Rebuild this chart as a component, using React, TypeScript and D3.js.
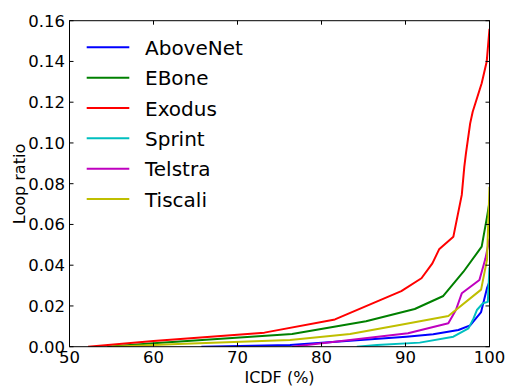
import React from "react";
import * as d3 from "d3";

const xTicks = [50, 60, 70, 80, 90, 100];
const yTicks = [0, 0.02, 0.04, 0.06, 0.08, 0.1, 0.12, 0.14, 0.16];

const aboveNet: [number, number][] = [[65.7, 0], [76.25, 0.0008], [90.1, 0.0049], [93.3, 0.0061], [96.3, 0.0082], [97.7, 0.0105], [99.0, 0.017], [99.7, 0.0287], [100, 0.032]];
const eBone: [number, number][] = [[54.5, 0], [60, 0.0017], [76.5, 0.0062], [85.3, 0.0125], [91.1, 0.0185], [94.5, 0.0249], [96.9, 0.0368], [99.07, 0.0491], [99.7, 0.0636], [100, 0.071]];
const exodus: [number, number][] = [[52.2, 0], [60, 0.0028], [73.2, 0.0069], [81.6, 0.0134], [89.5, 0.0273], [91.9, 0.0336], [93.2, 0.0409], [94.0, 0.0478], [95.7, 0.054], [96.7, 0.0745], [97.0, 0.0883], [97.2, 0.095], [97.7, 0.1096], [98.0, 0.1153], [99.07, 0.1293], [99.67, 0.14], [100, 0.156]];
const sprint: [number, number][] = [[84.2, 0], [86.6, 0.0008], [91.7, 0.002], [95.7, 0.0049], [97.5, 0.009], [98.1, 0.0139], [98.5, 0.018], [99.2, 0.0213], [99.8, 0.022], [100, 0.039]];
const telstra: [number, number][] = [[76.5, 0], [90.3, 0.0066], [95.1, 0.0115], [96.0, 0.018], [96.7, 0.0262], [98.8, 0.0327], [99.5, 0.043], [100, 0.053]];
const tiscali: [number, number][] = [[55, 0], [62.9, 0.0013], [76.25, 0.0033], [83.4, 0.0062], [89.3, 0.0107], [95.1, 0.0151], [99.0, 0.028], [99.7, 0.0426], [100, 0.0785]];

const seriesNames = ["AboveNet", "EBone", "Exodus", "Sprint", "Telstra", "Tiscali"];
const seriesData = [aboveNet, eBone, exodus, sprint, telstra, tiscali];
const seriesColors = ["#0000ff", "#008000", "#ff0000", "#00bfbf", "#bf00bf", "#bfbf00"];

export default function App() {
  const W = 508, H = 390;
  const left = 69.5, right = 489.5, top = 20.7, bottom = 346.7;
  const x = d3.scaleLinear().domain([50, 100]).range([left, right]);
  const y = d3.scaleLinear().domain([0, 0.16]).range([bottom, top]);
  const line = d3.line<[number, number]>().x(d => x(d[0])).y(d => y(d[1]));
  const font = "DejaVu Sans";
  const tl = 4;
  return (
    <svg width={W} height={H} style={{ position: "absolute", left: 0, top: 0, background: "#fff" }} fontFamily={font}>
      <defs>
        <clipPath id="clip">
          <rect x={left} y={top} width={right - left} height={bottom - top} />
        </clipPath>
      </defs>
      <g clipPath="url(#clip)">
        {seriesData.map((s, i) => (
          <path key={i} d={line(s) || ""} fill="none" stroke={seriesColors[i]} strokeWidth={2} strokeLinejoin="round" />
        ))}
      </g>
      <rect x={left} y={top} width={right - left} height={bottom - top} fill="none" stroke="#000" strokeWidth={1} />
      {xTicks.map(t => (
        <g key={"x" + t}>
          <line x1={x(t)} x2={x(t)} y1={bottom} y2={bottom - tl} stroke="#000" />
          <line x1={x(t)} x2={x(t)} y1={top} y2={top + tl} stroke="#000" />
          <text x={x(t)} y={363} fontSize={16.5} textAnchor="middle">{t}</text>
        </g>
      ))}
      {yTicks.map(t => (
        <g key={"y" + t}>
          <line x1={left} x2={left + tl} y1={y(t)} y2={y(t)} stroke="#000" />
          <line x1={right} x2={right - tl} y1={y(t)} y2={y(t)} stroke="#000" />
          <text x={65} y={y(t) + 6} fontSize={16.5} textAnchor="end">{t.toFixed(2)}</text>
        </g>
      ))}
      <text x={(left + right) / 2} y={383} fontSize={16} textAnchor="middle">ICDF (%)</text>
      <text transform={`translate(25,184) rotate(-90)`} fontSize={16} textAnchor="middle">Loop ratio</text>
      {seriesNames.map((n, i) => {
        const ly = 47.3 + i * 30.35;
        return (
          <g key={n}>
            <line x1={86.7} x2={129.3} y1={ly} y2={ly} stroke={seriesColors[i]} strokeWidth={2} />
            <text x={145} y={ly + 7.5} fontSize={20}>{n}</text>
          </g>
        );
      })}
    </svg>
  );
}
